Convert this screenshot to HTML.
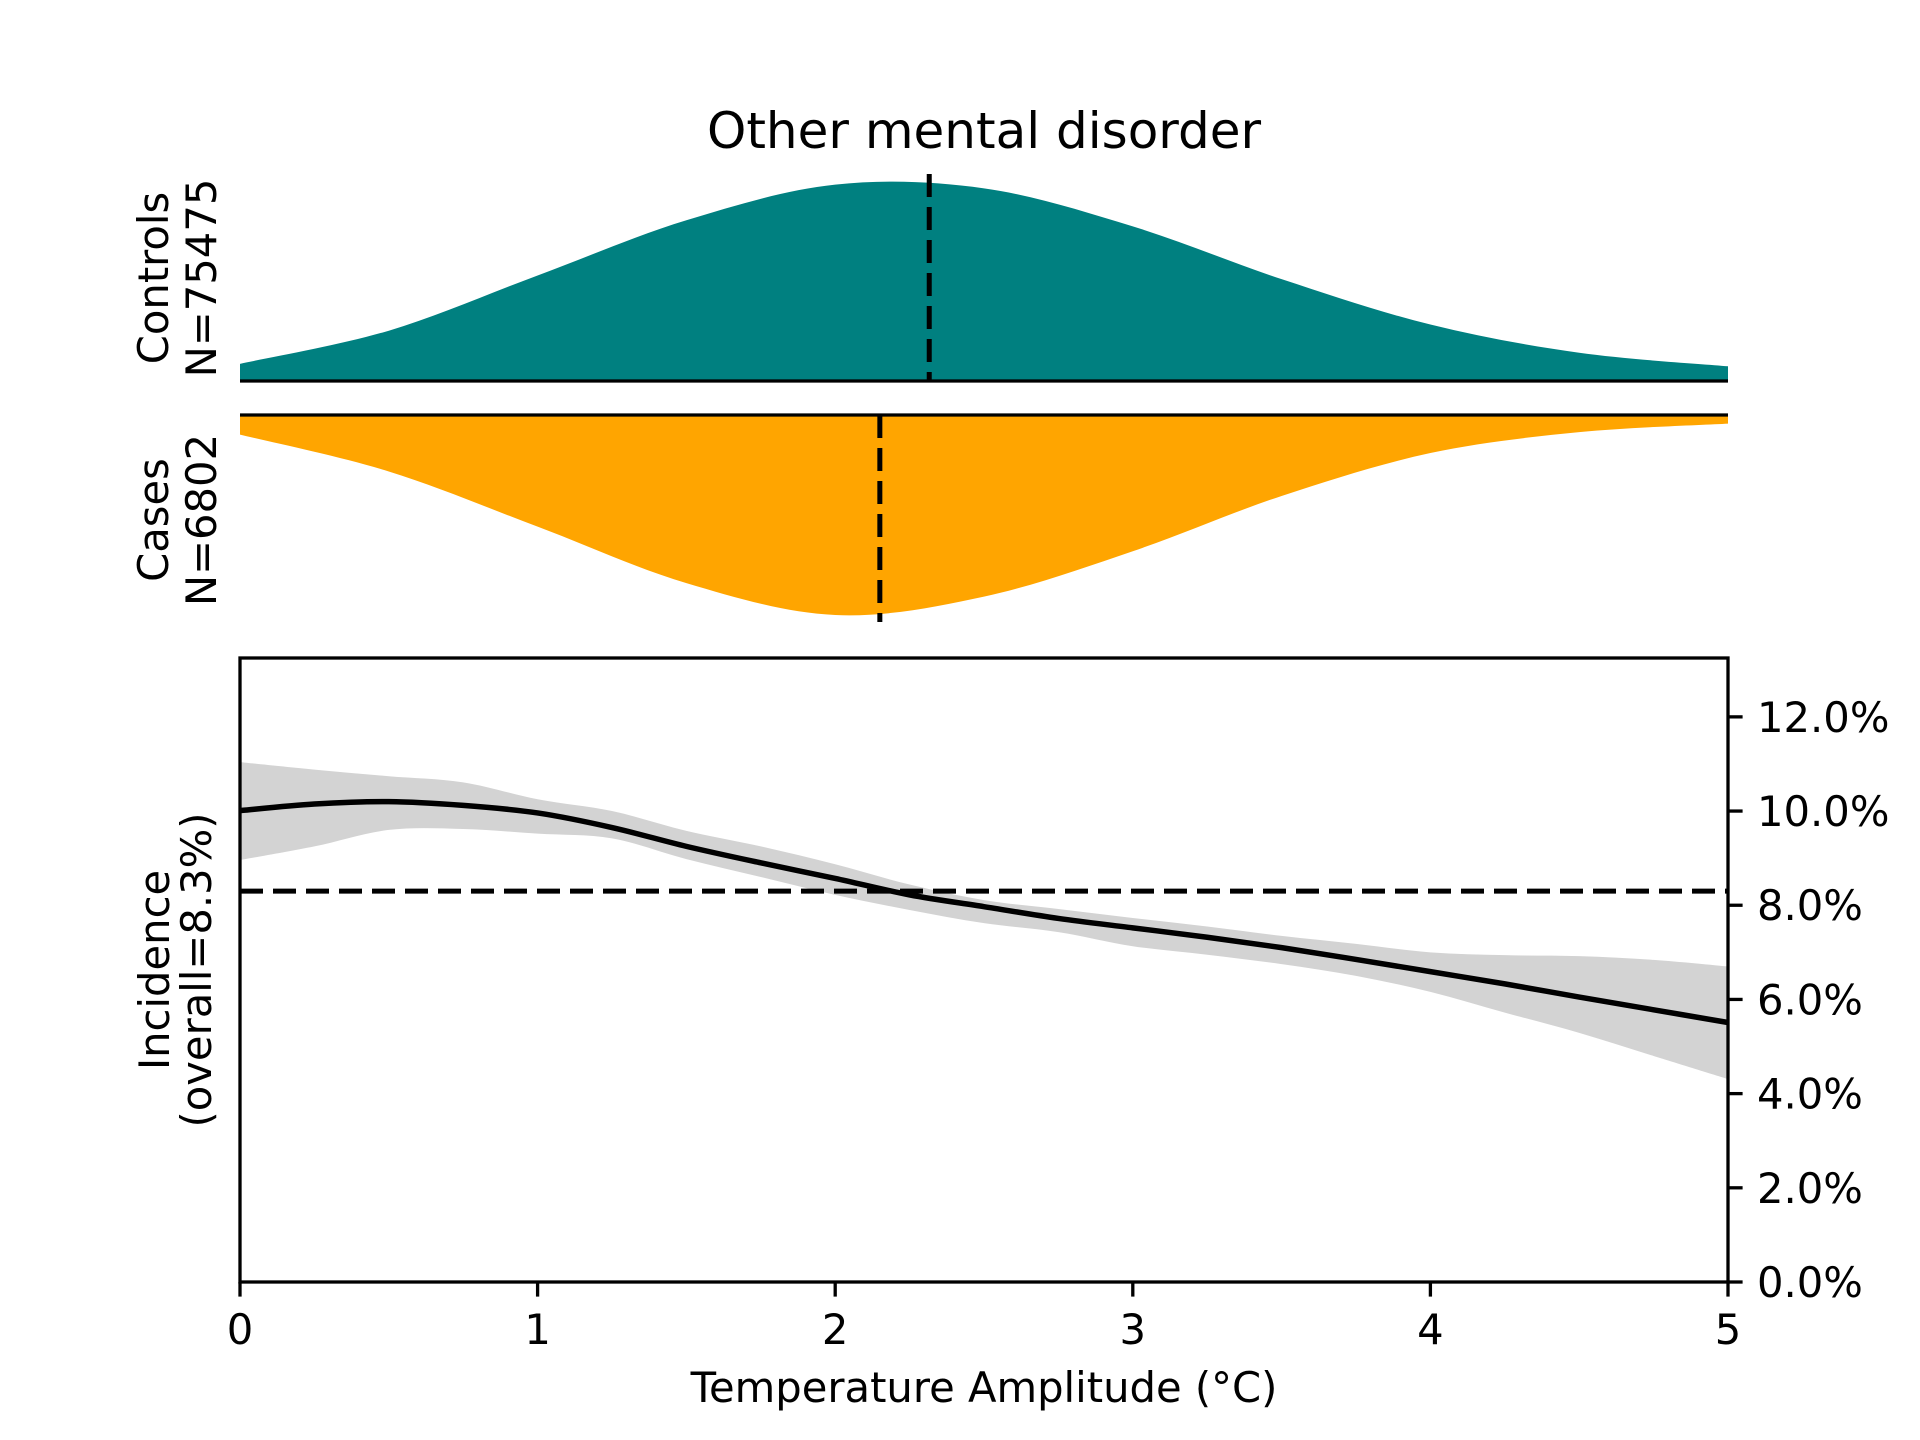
<!DOCTYPE html>
<html><head><meta charset="utf-8">
<style>
html,body{margin:0;padding:0;background:#fff;}
svg{display:block;font-family:"DejaVu Sans","Liberation Sans",sans-serif;}
</style></head>
<body>
<svg id="chart" width="1920" height="1440" viewBox="0 0 1920 1440" xmlns="http://www.w3.org/2000/svg">
<rect width="1920" height="1440" fill="#fff"/>
<text x="984" y="148" font-size="50" text-anchor="middle">Other mental disorder</text>
<g id="ctrl"></g>
<g id="cases"></g>
<g id="main"></g>
<text transform="translate(168,278) rotate(-90)" font-size="41.7" text-anchor="middle">Controls</text>
<text transform="translate(216,278) rotate(-90)" font-size="41.7" text-anchor="middle">N=75475</text>
<text transform="translate(168,520) rotate(-90)" font-size="41.7" text-anchor="middle">Cases</text>
<text transform="translate(216,520) rotate(-90)" font-size="41.7" text-anchor="middle">N=6802</text>
<text transform="translate(169,970) rotate(-90)" font-size="41.7" text-anchor="middle">Incidence</text>
<text transform="translate(211,970) rotate(-90)" font-size="41.7" text-anchor="middle">(overall=8.3%)</text>
<text x="984" y="1402" font-size="41.7" text-anchor="middle">Temperature Amplitude (°C)</text>
</svg>
<script>
const ctrlX=[0,0.5,1,1.5,2,2.5,3,3.5,4,4.5,5];
const ctrlD=[0.014,0.041,0.086,0.131,0.160,0.157,0.126,0.083,0.046,0.023,0.012];
const casesX=[0,0.5,1,1.5,2,2.5,3,3.5,4,4.5,5];
const casesD=[0.016,0.046,0.091,0.137,0.163,0.148,0.111,0.066,0.031,0.014,0.007];
const ctrlMean=2.316;
const casesMean=2.15;
const gridX=[0,0.25,0.5,0.75,1,1.25,1.5,1.75,2,2.25,2.5,2.75,3,3.25,3.5,3.75,4,4.25,4.5,4.75,5];
const incLine=[10.01,10.15,10.2,10.12,9.96,9.65,9.25,8.9,8.57,8.22,7.97,7.72,7.52,7.32,7.10,6.85,6.59,6.33,6.05,5.78,5.51];
const incUpper=[11.04,10.88,10.74,10.61,10.25,10.0,9.58,9.25,8.87,8.44,8.11,7.92,7.73,7.55,7.35,7.18,7.0,6.94,6.92,6.84,6.7];
const incLower=[8.96,9.25,9.6,9.62,9.52,9.42,8.98,8.6,8.22,7.9,7.62,7.43,7.13,6.95,6.75,6.5,6.16,5.72,5.29,4.8,4.31];
const overall=8.3;
const xTicks=[0,1,2,3,4,5];
const yTicks=[0,2,4,6,8,10,12];
const yTickLabels=["0.0%","2.0%","4.0%","6.0%","8.0%","10.0%","12.0%"];

const NS="http://www.w3.org/2000/svg";
const L=240,R=1728,T=658,B=1282;
const xs=v=>L+(v/5)*(R-L);
const ys=v=>B-(v/13.25)*(B-T);
const dScale=1227;
const cBase=381,kBase=415;
function mk(tag,attrs,parent){const e=document.createElementNS(NS,tag);for(const k in attrs)e.setAttribute(k,attrs[k]);parent.appendChild(e);return e;}
function smooth(pts){
  let d="M"+pts[0][0]+","+pts[0][1];
  for(let i=0;i<pts.length-1;i++){
    const p0=pts[i-1]||pts[i],p1=pts[i],p2=pts[i+1],p3=pts[i+2]||p2;
    const c1=[p1[0]+(p2[0]-p0[0])/6,p1[1]+(p2[1]-p0[1])/6];
    const c2=[p2[0]-(p3[0]-p1[0])/6,p2[1]-(p3[1]-p1[1])/6];
    d+=" C"+c1[0]+","+c1[1]+" "+c2[0]+","+c2[1]+" "+p2[0]+","+p2[1];
  }
  return d;
}
const ctrl=document.getElementById('ctrl');
const cpts=ctrlX.map((x,i)=>[xs(x),cBase-ctrlD[i]*dScale]);
const ca=mk('path',{d:smooth(cpts)+" L"+xs(5)+","+cBase+" L"+xs(0)+","+cBase+" Z",fill:"#008080"},ctrl);


const cb=mk('line',{x1:L,x2:R,y1:cBase,y2:cBase,stroke:"#000","stroke-width":3.3},ctrl);


const cm=mk('line',{x1:xs(ctrlMean),x2:xs(ctrlMean),y1:174,y2:cBase,stroke:"#000","stroke-width":5,"stroke-dasharray":"23,10"},ctrl);



const cases=document.getElementById('cases');
const kpts=casesX.map((x,i)=>[xs(x),kBase+casesD[i]*dScale]);
const ka=mk('path',{d:smooth(kpts)+" L"+xs(5)+","+kBase+" L"+xs(0)+","+kBase+" Z",fill:"#FFA500"},cases);


const kb=mk('line',{x1:L,x2:R,y1:kBase,y2:kBase,stroke:"#000","stroke-width":3.3},cases);


const km=mk('line',{x1:xs(casesMean),x2:xs(casesMean),y1:kBase,y2:622,stroke:"#000","stroke-width":5,"stroke-dasharray":"23,10"},cases);



const main=document.getElementById('main');
const up=gridX.map((x,i)=>[xs(x),ys(incUpper[i])]);
const lo=gridX.map((x,i)=>[xs(x),ys(incLower[i])]).reverse();
const loPath=smooth(lo);
const band=mk('path',{d:smooth(up)+" L"+lo[0][0]+","+lo[0][1]+loPath.slice(loPath.indexOf(" C"))+" Z",fill:"#d3d3d3"},main);


const ov=mk('line',{x1:L,x2:R,y1:ys(overall),y2:ys(overall),stroke:"#000","stroke-width":5,"stroke-dasharray":"23,10"},main);


const ln=mk('path',{d:smooth(gridX.map((x,i)=>[xs(x),ys(incLine[i])])),fill:"none",stroke:"#000","stroke-width":5.5},main);


const fr=mk('rect',{x:L,y:T,width:R-L,height:B-T,fill:"none",stroke:"#000","stroke-width":3.3},main);


xTicks.forEach(v=>{
  const t=mk('line',{x1:xs(v),x2:xs(v),y1:B,y2:B+14.6,stroke:"#000","stroke-width":3.3},main);
  
  
  const lb=mk('text',{x:xs(v),y:B+62,"font-size":41.7,"text-anchor":"middle"},main);
  lb.textContent=String(v);
  
  
});
yTicks.forEach((v,i)=>{
  const t=mk('line',{x1:R,x2:R+14.6,y1:ys(v),y2:ys(v),stroke:"#000","stroke-width":3.3},main);
  
  
  const lb=mk('text',{x:R+29,y:ys(v)+15,"font-size":41.7},main);
  lb.textContent=yTickLabels[i];
  
  
});
</script>
</body></html>
